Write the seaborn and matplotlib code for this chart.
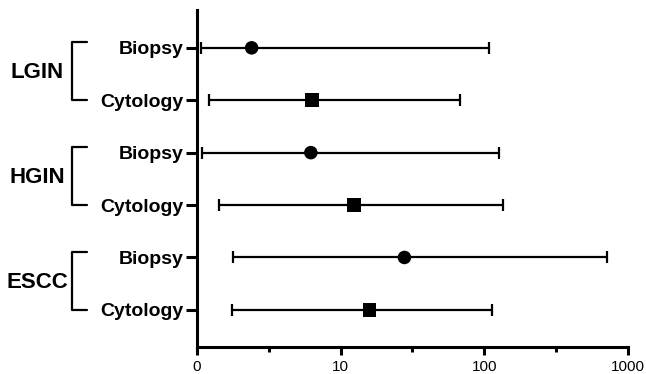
import numpy as np
import pandas as pd
import seaborn as sns
import matplotlib
import matplotlib.pyplot as plt
from matplotlib.transforms import blended_transform_factory

matplotlib.use('Agg')

groups = ['LGIN', 'HGIN', 'ESCC']
methods = ['Biopsy', 'Cytology']
estimate = [2.4, 6.3, 6.2, 12.4, 27.8, 15.9]
lower = [1.07, 1.21, 1.08, 1.42, 1.77, 1.74]
upper = [108, 68, 126, 134, 715, 113]
x_ticks = [1, 10, 100, 1000]
x_tick_labels = ['0', '10', '100', '1000']

rows = [f'{g} {m}' for g in groups for m in methods]
df = pd.DataFrame({
    'row': rows,
    'method': methods * len(groups),
    'est': estimate,
    'lo': lower,
    'hi': upper,
})
df['pos'] = np.arange(len(df))

sns.set_style('ticks')
plt.rcParams['font.family'] = ['Liberation Sans', 'DejaVu Sans']
plt.rcParams['text.color'] = 'black'

fig = plt.figure(figsize=(6.46, 3.74), dpi=100)
ax = fig.add_axes([0.305, 0.072, 0.667, 0.901])

# whiskers first, points on top
ax.errorbar(df['est'], df['pos'],
            xerr=[df['est'] - df['lo'], df['hi'] - df['est']],
            fmt='none', ecolor='black', elinewidth=1.6,
            capsize=4.5, capthick=1.6, zorder=2)
sns.scatterplot(data=df, x='est', y='pos', style='method',
                markers={'Biopsy': 'o', 'Cytology': 's'},
                color='black', s=95, edgecolor='black', linewidth=0,
                legend=False, ax=ax, zorder=3)

ax.set_xscale('log')
ax.set_xlim(1, 1000)
ax.set_ylim(5.71, -0.72)
ax.set_xticks(x_ticks)
ax.set_xticklabels(x_tick_labels, fontsize=11, color='black')
ax.set_xticks([10 ** 0.5, 10 ** 1.5, 10 ** 2.5], minor=True)
ax.set_xticklabels([], minor=True)
ax.set_yticks(df['pos'])
ax.set_yticklabels(df['method'], fontsize=14, fontweight='bold', color='black')
ax.set_xlabel('')
ax.set_ylabel('')

for side in ['top', 'right']:
    ax.spines[side].set_visible(False)
for side in ['left', 'bottom']:
    ax.spines[side].set_linewidth(2.2)
    ax.spines[side].set_color('black')
ax.tick_params(axis='x', which='major', length=6, width=2.2, pad=3, colors='black')
ax.tick_params(axis='x', which='minor', length=3.5, width=2.2, colors='black')
ax.tick_params(axis='y', length=8, width=2.2, pad=2, colors='black')

# group brackets on the left
trans = blended_transform_factory(fig.transFigure, ax.transData)
bx0, bx1 = 72 / 646, 87 / 646
for i, g in enumerate(groups):
    top = 2 * i - 0.11
    bot = 2 * i + 1.0
    ax.plot([bx1, bx0, bx0, bx1], [top, top, bot, bot], color='black',
            lw=1.6, transform=trans, clip_on=False)
    ax.text(37 / 646, 2 * i + 0.47, g, transform=trans, ha='center',
            va='center', fontsize=16, fontweight='bold', color='black')

fig.savefig('out.png', dpi=100)
